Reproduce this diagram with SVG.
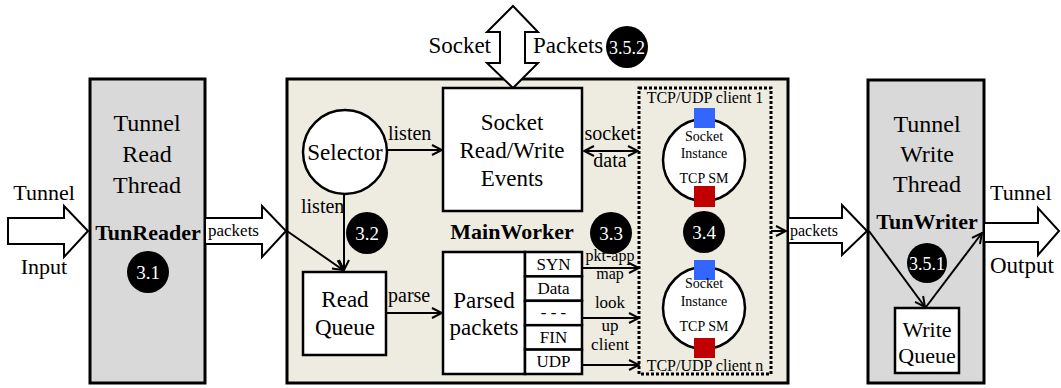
<svg xmlns="http://www.w3.org/2000/svg" width="1061" height="388" viewBox="0 0 1061 388" font-family="'Liberation Serif','Times New Roman',serif">
<style>
text{font-family:"Liberation Serif","Times New Roman",serif;fill:#000}
.big{font-family:"Liberation Serif","Times New Roman",serif;font-size:23px;text-anchor:middle}
.head{font-family:"Liberation Serif","Times New Roman",serif;font-size:24px;text-anchor:middle}
.bold{font-family:"Liberation Serif","Times New Roman",serif;font-weight:bold;font-size:22px;text-anchor:middle}
.lbl{font-family:"Liberation Serif","Times New Roman",serif;font-size:20px}
.mid{text-anchor:middle}
.sm{font-family:"Liberation Serif","Times New Roman",serif;font-size:17px;text-anchor:middle}
.tiny{font-family:"Liberation Serif","Times New Roman",serif;font-size:14px;text-anchor:middle}
.badge{fill:#000}
.btxt{font-family:"Liberation Serif","Times New Roman",serif;fill:#fff;font-size:19px;text-anchor:middle}
.thread{fill:#d9d9d9;stroke:#000;stroke-width:3}
.box{fill:#fff;stroke:#000;stroke-width:2.5}
.line{stroke:#000;stroke-width:2;fill:none}
.block{fill:#fff;stroke:#000;stroke-width:2;stroke-linejoin:miter}
</style>
<defs>
<marker id="ah" viewBox="0 0 12 12" refX="11" refY="6" markerWidth="12" markerHeight="12" markerUnits="userSpaceOnUse" orient="auto-start-reverse">
<path d="M1,1 L11,6 L1,11" fill="none" stroke="#000" stroke-width="2"/>
</marker>
</defs>

<g id="tunnel-input">
<path class="block" d="M8,218 L64,218 L64,206 L88,231 L64,257 L64,244 L8,244 Z"/>
<text class="big" x="44" y="200" style="font-size:22px">Tunnel</text>
<text class="big" x="44" y="274" style="font-size:22px">Input</text>
</g>

<g id="tunreader">
<rect class="thread" x="90" y="79" width="115" height="304"/>
<text class="head" x="147" y="131">Tunnel</text>
<text class="head" x="147" y="162">Read</text>
<text class="head" x="147" y="193">Thread</text>
<text class="bold" x="148" y="240">TunReader</text>
<circle class="badge" cx="148" cy="272" r="21"/>
<text class="btxt" x="148" y="279">3.1</text>
</g>

<g id="mainworker">
<rect x="287" y="79" width="501" height="304" fill="#eeece1" stroke="#000" stroke-width="3"/>
<text class="bold" x="512" y="239">MainWorker</text>
<circle class="badge" cx="367" cy="233" r="21"/>
<text class="btxt" x="367" y="240">3.2</text>
<circle class="badge" cx="611" cy="233" r="21"/>
<text class="btxt" x="611" y="240">3.3</text>
</g>

<g id="socket-io">
<path class="block" d="M500,32 L487,32 L513,6 L538,32 L525,32 L525,63 L538,63 L513,88 L487,63 L500,63 Z"/>
<text class="big" x="491" y="53" style="text-anchor:end">Socket</text>
<text class="big" x="533" y="53" style="text-anchor:start">Packets</text>
<circle class="badge" cx="627" cy="47" r="21"/>
<text class="btxt" x="627" y="54" style="font-size:18px">3.5.2</text>
</g>

<g id="selector">
<circle cx="345" cy="152" r="42" fill="#fff" stroke="#000" stroke-width="2.5"/>
<text class="big" x="345" y="160">Selector</text>
</g>

<g id="socket-events">
<rect class="box" x="443" y="88" width="139" height="123"/>
<text class="big" x="512" y="130">Socket</text>
<text class="big" x="512" y="158">Read/Write</text>
<text class="big" x="512" y="186">Events</text>
</g>

<g id="read-queue">
<rect class="box" x="303" y="272" width="83" height="83"/>
<text class="big" x="345" y="307">Read</text>
<text class="big" x="345" y="335">Queue</text>
</g>

<g id="parsed-packets">
<rect class="box" x="443" y="252" width="82" height="122"/>
<text class="big" x="484" y="308">Parsed</text>
<text class="big" x="484" y="335">packets</text>
<rect class="box" x="525" y="252" width="57" height="24.4"/>
<rect class="box" x="525" y="276.4" width="57" height="24.4"/>
<rect class="box" x="525" y="300.8" width="57" height="24.4"/>
<rect class="box" x="525" y="325.2" width="57" height="24.4"/>
<rect class="box" x="525" y="349.6" width="57" height="24.4"/>
<text class="sm" x="553.5" y="270">SYN</text>
<text class="sm" x="553.5" y="294">Data</text>
<text class="sm" x="553.5" y="318">- - -</text>
<text class="sm" x="553.5" y="343">FIN</text>
<text class="sm" x="553.5" y="367">UDP</text>
</g>

<g id="clients">
<rect x="639" y="88" width="132" height="286" fill="none" stroke="#000" stroke-width="3" stroke-dasharray="3,2"/>
<text class="sm" x="705" y="103" style="font-size:16px">TCP/UDP client 1</text>
<text class="sm" x="705" y="371" style="font-size:16px">TCP/UDP client n</text>
<circle cx="704" cy="160" r="41" fill="#fff" stroke="#000" stroke-width="2.5"/>
<rect x="694" y="108" width="21" height="20" fill="#3366ff"/>
<rect x="694" y="186" width="21" height="21" fill="#c00000"/>
<text class="tiny" x="704" y="141">Socket</text>
<text class="tiny" x="704" y="158">Instance</text>
<text class="tiny" x="704" y="183">TCP SM</text>
<circle class="badge" cx="704" cy="232" r="21"/>
<text class="btxt" x="704" y="239">3.4</text>
<circle cx="704" cy="308" r="41" fill="#fff" stroke="#000" stroke-width="2.5"/>
<rect x="694" y="260" width="21" height="20" fill="#3366ff"/>
<rect x="694" y="338" width="21" height="20" fill="#c00000"/>
<text class="tiny" x="704" y="288">Socket</text>
<text class="tiny" x="704" y="306">Instance</text>
<text class="tiny" x="704" y="331">TCP SM</text>
</g>

<g id="tunwriter">
<rect class="thread" x="868" y="80" width="116" height="303"/>
<text class="head" x="927" y="132">Tunnel</text>
<text class="head" x="927" y="162">Write</text>
<text class="head" x="927" y="192">Thread</text>
<text class="bold" x="927" y="229">TunWriter</text>
<rect class="box" x="895" y="308" width="64" height="65"/>
<text class="big" x="927" y="337" style="font-size:22px">Write</text>
<text class="big" x="927" y="363" style="font-size:22px">Queue</text>
</g>

<g id="tunnel-output">
<path class="block" d="M984,223 L1038,223 L1038,208 L1059,231 L1038,255 L1038,242 L984,242 Z"/>
<text class="big" x="990" y="200" style="text-anchor:start;font-size:22px">Tunnel</text>
<text class="big" x="990" y="273" style="text-anchor:start">Output</text>
</g>

<g id="connectors">
<path class="block" d="M205,218 L262,218 L262,206 L286,231 L262,257 L262,244 L205,244 Z"/>
<text class="lbl" x="208" y="236" style="font-size:17px">packets</text>
<path class="block" d="M788,218 L842,218 L842,205 L867,231 L842,255 L842,243 L788,243 Z"/>
<text class="lbl" x="790" y="236" style="font-size:16px">packets</text>
<line class="line" x1="771" y1="231" x2="786" y2="231" marker-end="url(#ah)"/>

<line class="line" x1="387" y1="150" x2="442" y2="150" marker-end="url(#ah)"/>
<text class="lbl" x="388" y="140">listen</text>
<line class="line" x1="344" y1="194" x2="344" y2="270" marker-end="url(#ah)"/>
<text class="lbl" x="301" y="213">listen</text>
<line class="line" x1="287" y1="231" x2="343" y2="270" marker-end="url(#ah)"/>
<line class="line" x1="386" y1="313" x2="442" y2="313" marker-end="url(#ah)"/>
<text class="lbl" x="388" y="302">parse</text>

<line class="line" x1="584" y1="151" x2="638" y2="151" marker-start="url(#ah)" marker-end="url(#ah)"/>
<text class="lbl mid" x="610" y="140">socket</text>
<text class="lbl mid" x="610" y="167">data</text>

<line class="line" x1="582" y1="268" x2="639" y2="268" marker-end="url(#ah)"/>
<text class="lbl mid" x="610" y="261" style="font-size:16px">pkt-app</text>
<text class="lbl mid" x="610" y="279" style="font-size:16px">map</text>
<line class="line" x1="582" y1="318" x2="639" y2="318" marker-end="url(#ah)"/>
<text class="lbl mid" x="610" y="308" style="font-size:17px">look</text>
<text class="lbl mid" x="610" y="331" style="font-size:17px">up</text>
<text class="lbl mid" x="610" y="350" style="font-size:17px">client</text>
<line class="line" x1="582" y1="365" x2="639" y2="365" marker-end="url(#ah)"/>

<line class="line" x1="869" y1="231" x2="925" y2="307" marker-end="url(#ah)"/>
<line class="line" x1="926" y1="307" x2="982" y2="233" marker-end="url(#ah)"/>
<circle class="badge" cx="927" cy="263" r="20"/>
<text class="btxt" x="927" y="270" style="font-size:18px">3.5.1</text>
</g>
</svg>
